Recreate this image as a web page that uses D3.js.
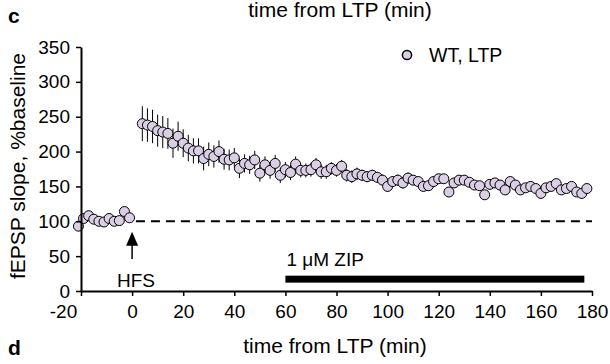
<!DOCTYPE html>
<html>
<head>
<meta charset="utf-8">
<script src="https://cdn.jsdelivr.net/npm/d3@7"></script>
<style>
  body { margin: 0; background: #fff; }
  text { font-family: "Liberation Sans", Arial, sans-serif; fill: #000; }
</style>
</head>
<body>
<svg width="610" height="364"></svg>
<script>
// baseline (before HFS)
const baseTime = [-21, -19, -17, -15, -13, -11, -9, -7, -5, -3, -1]
const baseVal = [93, 104, 108, 103, 100, 99, 104, 100, 101, 114, 105]
const baseErr = [4, 4, 4, 4, 4, 4, 4, 4, 4, 5, 4]

// after HFS
const ltpTime = [4, 6, 8, 10, 12, 14, 16, 18, 20, 22,
  24, 26, 28, 30, 32, 34, 36, 38, 40, 42,
  44, 46, 48, 50, 52, 54, 56, 58, 60, 62,
  64, 66, 68, 70, 72, 74, 76, 78, 80, 82,
  84, 86, 88, 90, 92, 94, 96, 98, 100, 102,
  104, 106, 108, 110, 112, 114, 116, 118, 120, 122,
  124, 126, 128, 130, 132, 134, 136, 138, 140, 142,
  144, 146, 148, 150, 152, 154, 156, 158, 160, 162,
  164, 166, 168, 170, 172, 174, 176, 178]
const ltpVal = [240, 238, 236, 230, 228, 226, 212, 222, 212, 205,
  201, 201, 190, 196, 193, 200, 189, 188, 191, 176,
  183, 181, 188, 169, 181, 173, 183, 166, 174, 170,
  182, 173, 173, 174, 181, 171, 171, 176, 173, 179,
  166, 164, 168, 166, 164, 166, 163, 159, 150, 157,
  159, 155, 162, 159, 157, 150, 151, 157, 161, 161,
  142, 155, 159, 159, 156, 152, 151, 138, 153, 155,
  152, 145, 157, 152, 145, 148, 150, 147, 140, 148,
  150, 154, 145, 147, 150, 142, 140, 147]
const ltpErr = [25, 24, 24, 23, 23, 22, 21, 21, 20, 19,
  18, 18, 17, 17, 16, 16, 15, 15, 14, 14,
  13, 13, 13, 12, 12, 12, 12, 11, 11, 11,
  11, 10, 10, 10, 10, 10, 10, 9, 9, 9,
  9, 9, 9, 8, 8, 8, 8, 8, 8, 8,
  8, 8, 8, 7, 7, 7, 7, 7, 7, 7,
  7, 7, 7, 7, 7, 7, 7, 7, 7, 7,
  7, 7, 7, 7, 7, 6, 6, 6, 6, 6,
  6, 6, 6, 6, 6, 6, 8, 6]

const xTicks = [-20, 0, 20, 40, 60, 80, 100, 120, 140, 160, 180]
const yTicks = [0, 50, 100, 150, 200, 250, 300, 350]
const zipStart = 60, zipEnd = 177

let pts = []
for (let i = 0; i < baseTime.length; i++) pts.push({t: baseTime[i], v: baseVal[i], e: baseErr[i]})
for (let i = 0; i < ltpTime.length; i++) pts.push({t: ltpTime[i], v: ltpVal[i], e: ltpErr[i]})

let svg = d3.select("svg")

let x = d3.scaleLinear().domain([-20, 180]).range([81, 592])
let y = d3.scaleLinear().domain([0, 350]).range([291, 47])

// dashed 100% line
svg.append("line")
  .attr("x1", x(1.5)).attr("x2", x(180))
  .attr("y1", y(100)).attr("y2", y(100))
  .attr("stroke", "#000").attr("stroke-width", 2)
  .attr("stroke-dasharray", "9,6")

// ZIP bar
svg.append("rect")
  .attr("x", x(zipStart)).attr("width", x(zipEnd) - x(zipStart))
  .attr("y", y(22)).attr("height", y(12) - y(22))
  .attr("fill", "#000")

svg.append("text")
  .attr("x", x(60) + 1).attr("y", 266)
  .attr("font-size", "19px")
  .html("1 &#956;M ZIP")

// HFS arrow
svg.append("line")
  .attr("x1", x(0)).attr("x2", x(0))
  .attr("y1", y(46)).attr("y2", y(66))
  .attr("stroke", "#000").attr("stroke-width", 1.5)
svg.append("path")
  .attr("d", "M" + (x(0) - 6) + "," + y(65) + "L" + (x(0) + 6) + "," + y(65) + "L" + x(0) + "," + y(85) + "Z")
  .attr("fill", "#000")
svg.append("text")
  .attr("x", x(1.5)).attr("y", 287)
  .attr("text-anchor", "middle")
  .attr("font-size", "19px")
  .text("HFS")

// error bars
svg.append("g")
  .selectAll("line")
  .data(pts)
  .join("line")
  .attr("x1", d => x(d.t)).attr("x2", d => x(d.t))
  .attr("y1", d => y(d.v - d.e)).attr("y2", d => y(d.v + d.e))
  .attr("stroke", "#000").attr("stroke-width", 1)

// points
svg.append("g")
  .selectAll("circle")
  .data(pts)
  .join("circle")
  .attr("cx", d => x(d.t)).attr("cy", d => y(d.v))
  .attr("r", 5)
  .attr("fill", "#dacfe4")
  .attr("stroke", "#000").attr("stroke-width", 1)

// axes
let yAxis = svg.append("g")
  .attr("transform", "translate(" + x(-20) + ",0)")
  .call(d3.axisLeft(y).tickValues(yTicks).tickSize(5).tickPadding(6).tickSizeOuter(0))
yAxis.select(".domain").attr("stroke-width", 2)
yAxis.selectAll(".tick line").attr("stroke-width", 1.5)
yAxis.selectAll("text").attr("font-size", "19px").attr("font-family", "Liberation Sans, Arial, sans-serif")

let xAxis = svg.append("g")
  .attr("transform", "translate(0," + y(0) + ")")
  .call(d3.axisBottom(x).tickValues(xTicks).tickFormat(d => "" + d).tickSize(5).tickPadding(9).tickSizeOuter(0))
xAxis.select(".domain").attr("stroke-width", 2)
xAxis.selectAll(".tick line").attr("stroke-width", 1.5)
xAxis.selectAll("text").attr("font-size", "19px").attr("font-family", "Liberation Sans, Arial, sans-serif")
  .attr("dx", d => d == -20 ? "-18" : "0")

// titles
svg.append("text")
  .attr("x", 335).attr("y", 353)
  .attr("text-anchor", "middle")
  .attr("font-size", "21px")
  .text("time from LTP (min)")
svg.append("text")
  .attr("x", 340).attr("y", 17)
  .attr("text-anchor", "middle")
  .attr("font-size", "21px")
  .text("time from LTP (min)")
svg.append("text")
  .attr("transform", "translate(25," + 166 + ") rotate(-90)")
  .attr("text-anchor", "middle")
  .attr("font-size", "21px")
  .text("fEPSP slope, %baseline")

svg.append("text").attr("x", 8).attr("y", 23)
  .attr("font-size", "21px").attr("font-weight", "bold").text("c")
svg.append("text").attr("x", 8).attr("y", 355)
  .attr("font-size", "21px").attr("font-weight", "bold").text("d")

// legend
svg.append("circle")
  .attr("cx", 407).attr("cy", 55).attr("r", 4.6)
  .attr("fill", "#dacfe4").attr("stroke", "#000").attr("stroke-width", 1.5)
svg.append("text")
  .attr("x", 429).attr("y", 62)
  .attr("font-size", "19.5px")
  .text("WT, LTP")
</script>
</body>
</html>
